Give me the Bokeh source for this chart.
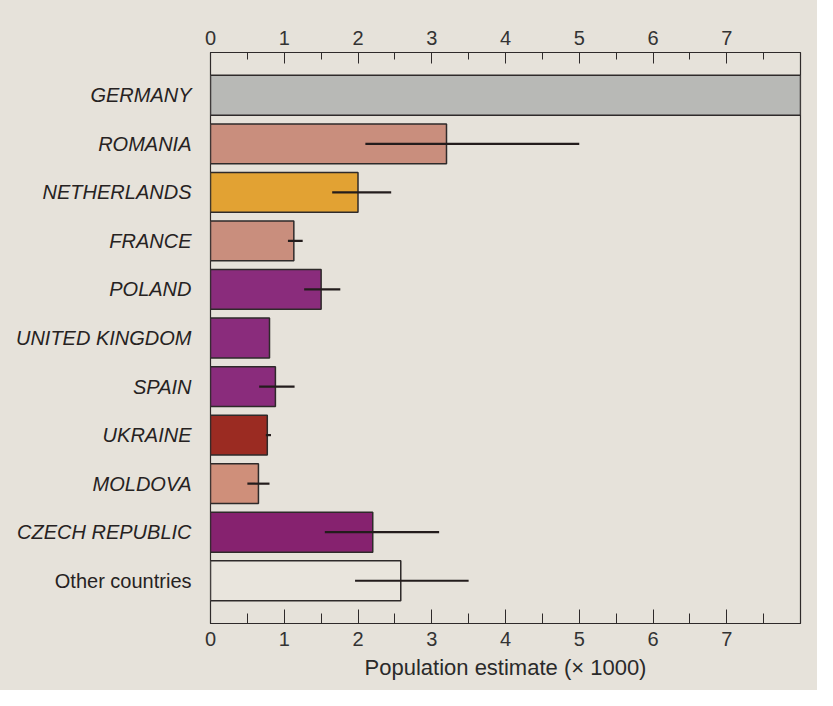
from bokeh.plotting import figure
from bokeh.layouts import row
from bokeh.models import FactorRange, Range1d, LinearAxis, FixedTicker, ColumnDataSource
from bokeh.core.properties import value
from bokeh.embed import file_html
from bokeh.resources import INLINE

countries = ["GERMANY", "ROMANIA", "NETHERLANDS", "FRANCE", "POLAND", "UNITED KINGDOM",
             "SPAIN", "UKRAINE", "MOLDOVA", "CZECH REPUBLIC", "Other countries"]
label_styles = ["italic"] * 10 + ["normal"]
estimates = [8.0, 3.2, 2.0, 1.13, 1.5, 0.8, 0.88, 0.77, 0.65, 2.2, 2.58]
err_low = [None, 2.1, 1.65, 1.05, 1.27, None, 0.66, 0.75, 0.5, 1.55, 1.96]
err_high = [None, 5.0, 2.45, 1.25, 1.76, None, 1.14, 0.82, 0.8, 3.1, 3.5]
colors = ["#b8b9b6", "#c98e7d", "#e2a233", "#c98e7d", "#8a2c7c", "#8a2c7c",
          "#8a2c7c", "#9b2b22", "#cf8f7a", "#86226f", "#e9e5dd"]
x_ticks = [0, 1, 2, 3, 4, 5, 6, 7]
x_minor = [0.5, 1.5, 2.5, 3.5, 4.5, 5.5, 6.5, 7.5]

BG = "#e6e2da"
INK = "#2e2a2a"
FONT = "Liberation Sans"
H = 690
TOP, BOT = 52, 67

yr = FactorRange(factors=list(reversed(countries)), range_padding=0.38,
                 range_padding_units="absolute")

# left column of category labels
lab = figure(width=194, height=H, output_backend="svg", toolbar_location=None,
             y_range=yr, x_range=Range1d(0, 1),
             min_border_left=0, min_border_right=0, min_border_top=TOP, min_border_bottom=BOT)
lab.axis.visible = False
lab.grid.visible = False
lab.outline_line_color = None
lab.background_fill_alpha = 0
lab.border_fill_color = BG
lsrc = ColumnDataSource(dict(country=countries, style=label_styles, xpos=[1.0] * len(countries)))
lab.text(x="xpos", y="country", text="country", source=lsrc, x_offset=-3,
         text_align="right", text_baseline="middle", text_font=value(FONT),
         text_font_size="20px", text_font_style="style", text_color="#262222")

p = figure(width=623, height=H, output_backend="svg", toolbar_location=None,
           y_range=yr, x_range=Range1d(0, 8.0), x_axis_location="below",
           min_border_left=16, min_border_right=17, min_border_top=TOP, min_border_bottom=BOT)
p.background_fill_color = BG
p.border_fill_color = BG
p.outline_line_color = INK
p.outline_line_width = 1.2
p.grid.visible = False
p.yaxis.visible = False

src = ColumnDataSource(dict(country=countries, est=estimates, color=colors))
p.hbar(y="country", right="est", left=0, height=0.82, source=src,
       fill_color="color", line_color=INK, line_width=1.5)

ey, el, eh = [], [], []
for c, lo, hi in zip(countries, err_low, err_high):
    if lo is not None:
        ey.append(c); el.append(lo); eh.append(hi)
p.segment(x0=el, x1=eh, y0=ey, y1=ey, line_color="#231c1c", line_width=2.2)

def style_x(ax, tick_len):
    ax.ticker = FixedTicker(ticks=x_ticks, minor_ticks=x_minor)
    ax.major_tick_in = tick_len
    ax.major_tick_out = 0
    ax.minor_tick_in = tick_len - 4
    ax.minor_tick_out = 0
    ax.axis_line_color = INK
    ax.major_tick_line_color = INK
    ax.minor_tick_line_color = INK
    ax.major_label_text_font = FONT
    ax.major_label_text_font_size = "20px"
    ax.major_label_text_color = "#333333"
    ax.major_label_standoff = 8

style_x(p.xaxis[0], 14)
p.xaxis[0].axis_label = "Population estimate (\u00d7 1000)"
p.xaxis[0].axis_label_text_font = FONT
p.xaxis[0].axis_label_text_font_size = "22px"
p.xaxis[0].axis_label_text_font_style = "normal"
p.xaxis[0].axis_label_text_color = "#2a2a2a"
p.xaxis[0].axis_label_standoff = 6

top = LinearAxis()
style_x(top, 11)
p.add_layout(top, "above")

layout = row(lab, p, spacing=0, styles={"background-color": BG})
open("out.html", "w").write(file_html(layout, INLINE))
